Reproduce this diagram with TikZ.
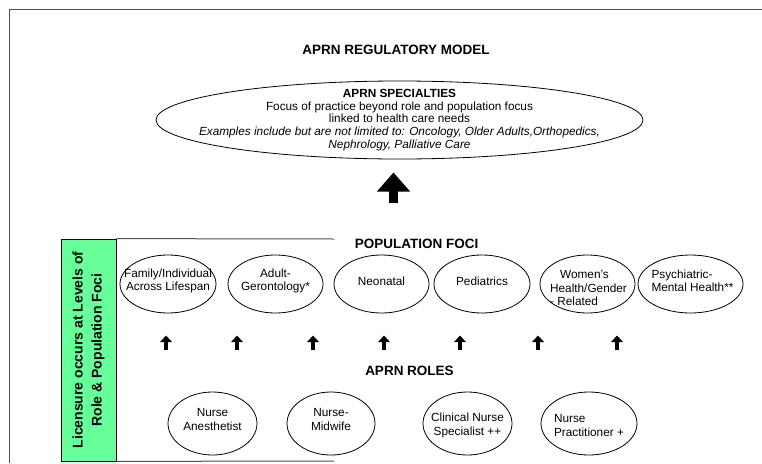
\documentclass[tikz,border=0pt]{standalone}
\usepackage{fontspec}
\setmainfont{Liberation Sans}
\usetikzlibrary{shapes.geometric,arrows.meta}
\definecolor{licgreen}{RGB}{102,255,153}
\definecolor{rulegrey}{RGB}{80,80,80}
\tikzset{
  heading/.style={font=\fontsize{13.5}{15}\selectfont\bfseries, inner sep=0pt},
  oval/.style={draw, ellipse, line width=0.8pt, inner sep=0pt, minimum height=58pt},
  roleoval/.style={oval, minimum height=63pt},
  ovaltext/.style={inner sep=0pt, align=center, font=\fontsize{11.8}{13.3}\selectfont},
  uparrow/.style={line width=3.3pt, -{Triangle[width=11.5pt,length=6.5pt]}},
  bigarrow/.style={line width=9pt, -{Triangle[width=32pt,length=19pt]}},
  frameline/.style={line width=1pt, draw=rulegrey}
}
\begin{document}
\begin{tikzpicture}[x=1pt,y=-1pt]
\useasboundingbox (0,0) rectangle (762,463);

% outer frame (top and left edges)
\draw[frameline] (9,463) -- (9,9) -- (762,9);

% title
\node[heading] (title) at (396,50) {APRN REGULATORY MODEL};

% specialties
\node[oval, minimum width=487pt, minimum height=78pt] (spec) at (399.5,120) {};
\node[ovaltext, font=\fontsize{11.8}{12.6}\selectfont] (spectext) at (spec.center)
  {\textbf{APRN SPECIALTIES}\\
   Focus of practice beyond role and population focus\\
   linked to health care needs\\
   \textit{Examples include but are not limited to: Oncology, Older Adults,Orthopedics,}\\
   \textit{Nephrology, Palliative Care}};

\coordinate (bigtail) at (393.5,203);
\coordinate (bighead) at (393.5,172.5);
\draw[bigarrow] (bigtail) -- (bighead);

% licensure panel
\node[draw, fill=licgreen, line width=0.8pt, minimum width=55pt, minimum height=222pt,
  inner sep=0pt] (lic) at (88.5,350) {};
\node[rotate=90, align=center, inner sep=0pt,
  font=\fontsize{14}{19}\selectfont\bfseries] (lictext) at (lic.center)
  {Licensure occurs at Levels of\\ Role \& Population Foci};
\coordinate (topend) at (334,239);
\coordinate (botend) at (334,461);
\draw[frameline] (lic.north east) -- (topend);
\draw[frameline] (lic.south east) -- (botend);

% population foci
\node[heading] (pophead) at (416.5,244) {POPULATION FOCI};
\node[oval, minimum width=96pt] (fam) at (168,284) {};
\node[oval, minimum width=95pt] (adult) at (275.5,284) {};
\node[oval, minimum width=95pt] (neo) at (381.5,284) {};
\node[oval, minimum width=96pt] (ped) at (482,284) {};
\node[oval, minimum width=95pt] (wom) at (587.5,284) {};
\node[oval, minimum width=105pt] (psy) at (690.5,284) {};
\node[ovaltext] (famtext) at ([yshift=3pt]fam.center) {Family/Individual\\Across Lifespan};
\node[ovaltext] (adulttext) at ([yshift=3pt]adult.center) {Adult-\\Gerontology*};
\node[ovaltext] (neotext) at ([yshift=3pt]neo.center) {Neonatal};
\node[ovaltext] (pedtext) at ([yshift=3pt]ped.center) {Pediatrics};
\node[ovaltext, align=left] (womtext) at ([xshift=1pt,yshift=-4pt]wom.center)
  {\hspace*{10pt}Women’s\\Health/Gender\\- Related};
\node[ovaltext, align=left] (psytext) at ([xshift=2pt,yshift=3pt]psy.center)
  {Psychiatric-\\Mental Health**};

% arrows from roles to population foci
\foreach \i/\xx in {1/166,2/237,3/313,4/384,5/460,6/538,7/617}{
  \coordinate (at\i) at (\xx,350);
  \coordinate (ah\i) at (\xx,335.5);
  \draw[uparrow] (at\i) -- (ah\i);
}

% roles
\node[heading] (rolehead) at (409.5,371) {APRN ROLES};
\node[roleoval, minimum width=89pt] (na) at (212.5,423.5) {};
\node[roleoval, minimum width=88pt] (nm) at (331,423.5) {};
\node[roleoval, minimum width=89pt] (cns) at (467.5,423.5) {};
\node[roleoval, minimum width=96pt] (np) at (589,423.5) {};
\node[ovaltext] (natext) at ([yshift=4pt]na.center) {Nurse\\Anesthetist};
\node[ovaltext] (nmtext) at ([yshift=4pt]nm.center) {Nurse-\\Midwife};
\node[ovaltext] (cnstext) at ([yshift=-2pt]cns.center) {Clinical Nurse\\Specialist ++};
\node[ovaltext, align=left] (nptext) at ([yshift=-2pt]np.center) {Nurse\\Practitioner +};
\end{tikzpicture}
\end{document}
